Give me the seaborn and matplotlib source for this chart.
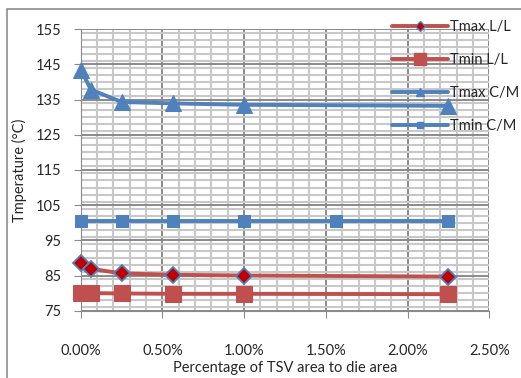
import numpy as np
import pandas as pd
import seaborn as sns
import matplotlib.pyplot as plt
from matplotlib.lines import Line2D
from matplotlib.patches import Rectangle
from matplotlib.ticker import MultipleLocator, FuncFormatter

# ---------------------------------------------------------------------------
# data (x = TSV area as % of die area)
x_main = [0.0, 0.0625, 0.25, 0.5625, 1.0, 2.25]
tmax_ll = [88.5, 86.9, 85.6, 85.2, 85.0, 84.7]
tmin_ll = [80.1, 80.0, 79.9, 79.8, 79.8, 79.7]
tmax_cm = [143.5, 137.8, 134.3, 133.9, 133.5, 133.2]

x_cm_min = [0.0, 0.25, 0.5625, 1.0, 1.5625, 2.25]
tmin_cm = [100.5, 100.5, 100.5, 100.5, 100.5, 100.5]

red = "#C0504D"
blue = "#4F81BD"

sns.set_style("white")
plt.rcParams['font.family'] = ['Lato', 'DejaVu Sans']

fig = plt.figure(figsize=(5.21, 3.78), dpi=100)
ax = fig.add_axes([0.155, 0.178, 0.784, 0.745])

# chart border
fig.patches.append(Rectangle((0.013, -0.1), 1.2, 1.076, transform=fig.transFigure,
                             fill=False, edgecolor="#8c8c8c", lw=1.2))

kw = dict(ax=ax, lw=2.8, zorder=3, clip_on=False)
sns.lineplot(x=x_main, y=tmax_ll, color=red, marker="D", markersize=8,
             markerfacecolor="#C00000", markeredgecolor=blue,
             markeredgewidth=1.3, **kw)
sns.lineplot(x=x_main, y=tmin_ll, color=red, marker="s", markersize=11,
             markerfacecolor=red, markeredgecolor=red, **kw)
sns.lineplot(x=x_main, y=tmax_cm, color=blue, marker="^", markersize=12,
             markerfacecolor=blue, markeredgecolor=blue, **kw)
sns.lineplot(x=x_cm_min, y=tmin_cm, color=blue, marker="s", markersize=8,
             markerfacecolor=blue, markeredgecolor=blue, **kw)

ax.set_xlim(0, 2.5)
ax.set_ylim(75, 155)
ax.xaxis.set_major_locator(MultipleLocator(0.5))
ax.xaxis.set_minor_locator(MultipleLocator(0.1))
ax.yaxis.set_minor_locator(MultipleLocator(2))
ax.set_yticks(np.arange(75, 156, 10))
ax.xaxis.set_major_formatter(FuncFormatter(lambda v, p: f"{v:.2f}%"))

ax.grid(which="minor", color="#c8c8c8", lw=1.5, zorder=0)
ax.grid(which="major", color="#8a8a8a", lw=1.4, zorder=1)
ax.set_axisbelow(True)

for s in ["top", "right"]:
    ax.spines[s].set_visible(False)
ax.spines["left"].set_color("#8a8a8a")
ax.spines["bottom"].set_color("#8a8a8a")
ax.tick_params(which="major", length=5, color="#8a8a8a", labelsize=10.5,
               left=True, bottom=True)
ax.tick_params(axis="x", pad=19)
ax.tick_params(axis="y", pad=9)
ax.tick_params(which="minor", length=0)

ax.set_xlabel("Percentage of TSV area to die area", fontsize=10.5, labelpad=2)
ax.set_ylabel("Tmperature (°C)", fontsize=10.5, labelpad=6)

handles = [
    Line2D([], [], color=red, lw=2.8, marker="D", markersize=5,
           markerfacecolor="#C00000", markeredgecolor=blue, markeredgewidth=1),
    Line2D([], [], color=red, lw=2.8, marker="s", markersize=8,
           markerfacecolor=red, markeredgecolor=red),
    Line2D([], [], color=blue, lw=2.8, marker="^", markersize=6,
           markerfacecolor=blue, markeredgecolor=blue),
    Line2D([], [], color=blue, lw=2.8, marker="s", markersize=5,
           markerfacecolor=blue, markeredgecolor=blue),
]
fig.legend(handles, ["Tmax L/L", "Tmin L/L", "Tmax C/M", "Tmin C/M"],
           loc="upper left", bbox_to_anchor=(0.728, 0.982), frameon=False,
           fontsize=10.5, handlelength=3.8, handletextpad=0.15, labelspacing=1.3)

fig.savefig("out.png", dpi=100)
